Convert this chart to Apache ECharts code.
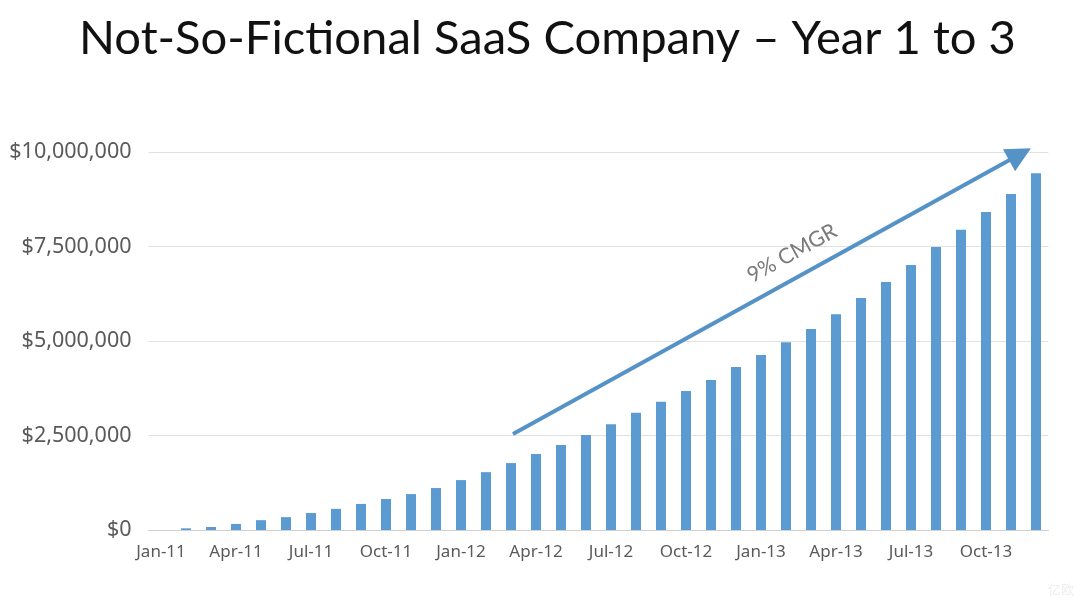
<!DOCTYPE html>
<html>
<head>
<meta charset="utf-8">
<style>html,body{margin:0;padding:0;background:#fff}#chart{width:1082px;height:604px}</style>
<script src="https://cdn.jsdelivr.net/npm/echarts@6/dist/echarts.min.js"></script>
</head>
<body>
<div id="chart"></div>
<script>
var titleText = 'Not-So-Fictional SaaS Company – Year 1 to 3';
var months = [
  'Jan-11','Feb-11','Mar-11','Apr-11','May-11','Jun-11','Jul-11','Aug-11','Sep-11','Oct-11','Nov-11','Dec-11',
  'Jan-12','Feb-12','Mar-12','Apr-12','May-12','Jun-12','Jul-12','Aug-12','Sep-12','Oct-12','Nov-12','Dec-12',
  'Jan-13','Feb-13','Mar-13','Apr-13','May-13','Jun-13','Jul-13','Aug-13','Sep-13','Oct-13','Nov-13','Dec-13'
];
var revenue = [
  0, 44000, 80000, 160000, 260000, 340000, 450000, 560000, 690000, 820000, 950000, 1110000,
  1320000, 1530000, 1770000, 2010000, 2250000, 2510000, 2800000, 3100000, 3390000, 3680000, 3970000, 4310000,
  4630000, 4970000, 5320000, 5710000, 6140000, 6560000, 7010000, 7490000, 7940000, 8410000, 8890000, 9440000
];
// arrow and its label, in month index / dollars
var arrowFrom = [14.08, 2540000];
var arrowTo = [34.36, 9940000];
var arrowLabelAt = [25.24, 7320000];

var chart = echarts.init(document.getElementById('chart'));
chart.setOption({
  animation: false,
  backgroundColor: '#fff',
  title: {
    text: titleText,
    left: 74,
    top: 10,
    textStyle: { fontFamily: 'Lato', fontWeight: 'normal', fontSize: 47.2, color: '#111' }
  },
  grid: { left: 148.5, width: 900, top: 152, bottom: 74 },
  xAxis: [{
    type: 'category',
    data: months,
    axisLine: { lineStyle: { color: '#d0d0d0' } },
    axisTick: { show: false },
    axisLabel: { interval: 2, margin: 14, fontFamily: 'Noto Sans', fontSize: 17, color: '#5a5a5a', hideOverlap: false }
  }, {
    type: 'value',
    min: -0.5,
    max: 35.5,
    show: false
  }],
  yAxis: {
    type: 'value',
    min: 0,
    max: 10000000,
    interval: 2500000,
    axisLine: { show: false },
    axisTick: { show: false },
    splitLine: { lineStyle: { color: '#dfe2e5' } },
    axisLabel: {
      margin: 17,
      padding: [3, 0, 0, 0],
      fontFamily: 'Noto Sans',
      fontSize: 21.5,
      color: '#5a5a5a',
      formatter: function (v) { return '$' + v.toLocaleString('en-US'); }
    }
  },
  series: [{
    type: 'bar',
    data: revenue,
    barWidth: 10,
    itemStyle: { color: '#5b9bd1' }
  }, {
    type: 'line',
    xAxisIndex: 1,
    data: [],
    silent: true,
    markLine: {
      silent: true,
      animation: false,
      symbol: ['none', 'triangle'],
      symbolSize: 25,
      label: { show: false },
      lineStyle: { color: '#5592c6', width: 4, type: 'solid' },
      data: [[{ coord: arrowFrom }, { coord: arrowTo }]]
    },
    markPoint: {
      silent: true,
      animation: false,
      symbol: 'circle',
      symbolSize: 0,
      data: [{ coord: arrowLabelAt }],
      label: {
        show: true,
        position: 'inside',
        formatter: '9% CMGR',
        rotate: 29,
        fontFamily: 'Lato',
        fontSize: 21.5,
        color: '#7a7a7a'
      }
    }
  }],
  graphic: [{
    type: 'text',
    right: 8,
    bottom: 8,
    style: { text: '亿欧', fontFamily: 'Noto Sans CJK SC', fontSize: 13, fill: '#eeeeee' }
  }]
});
</script>
</body>
</html>
